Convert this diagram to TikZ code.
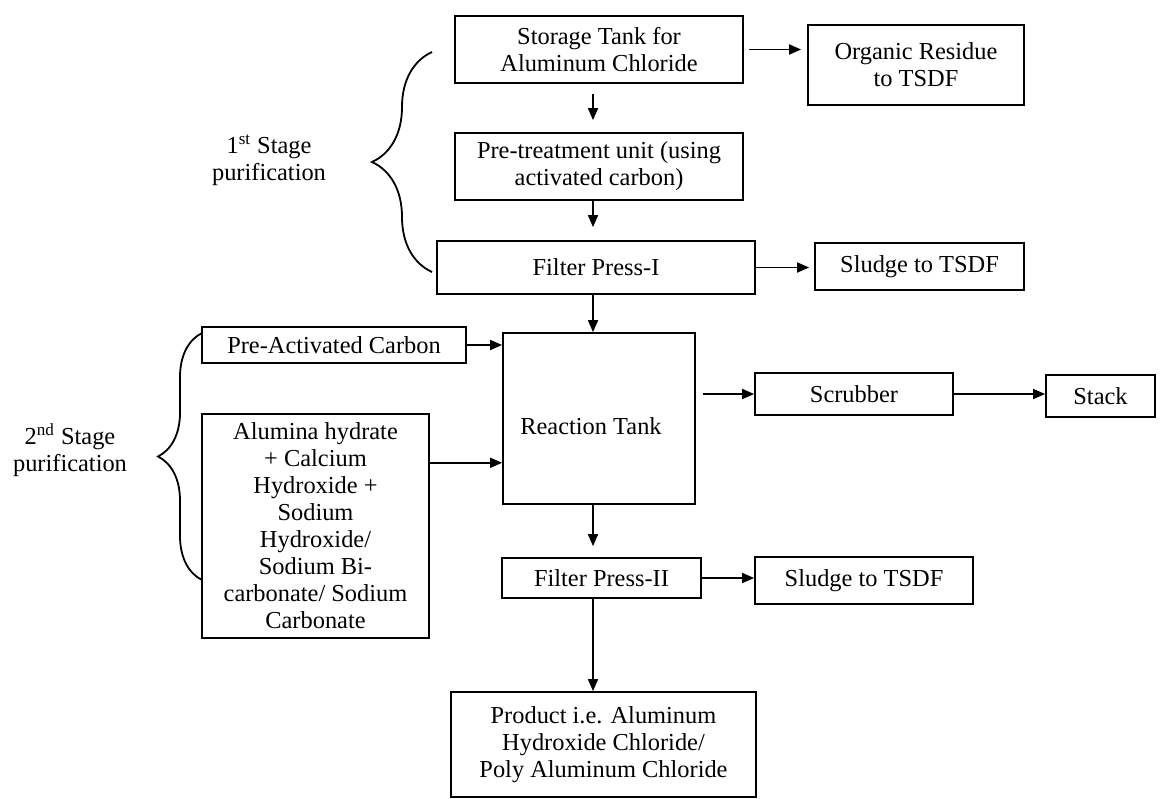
\documentclass[tikz,border=0pt]{standalone}
\usepackage{fontspec}
\setmainfont{Liberation Serif}
\usepackage{tikz}
\usetikzlibrary{calc,arrows.meta,decorations.pathreplacing}
\tikzset{
  unit/.style={rectangle, draw=black, line width=0.9pt, text centered, align=center, inner sep=2pt, font=\fontsize{12.2}{13.5}\selectfont},
  flow/.style={-{Triangle[length=6pt,width=5pt]}, line width=0.9pt},
  stage/.style={align=center, font=\fontsize{12.2}{13.5}\selectfont},
  curly/.style={decorate, line width=0.9pt}
}

\begin{document}
\begin{tikzpicture}[x=0.5pt,y=-0.5pt]
	\useasboundingbox (0,0) rectangle (1160,798);
	% main line
	\node[unit, minimum width=144pt, minimum height=33.5pt] (storage) at (599,49.5) {Storage Tank for\\Aluminum Chloride};
	\node[unit, minimum width=108pt, minimum height=40pt] (organic) at (916,65) {Organic Residue\\to TSDF};
	\node[unit, minimum width=144pt, minimum height=33.5pt] (pretreat) at (599,166.5) {Pre-treatment unit (using\\activated carbon)};
	\node[unit, minimum width=159pt, minimum height=26.5pt] (fpone) at (596,267.5) {Filter Press-I};
	\node[unit, minimum width=104.5pt, minimum height=23.5pt] (sludgeA) at (919.5,266.5) {Sludge to TSDF};
	\node[unit, minimum width=132pt, minimum height=18pt] (preact) at (334,345) {Pre-Activated Carbon};
	\node[unit, minimum width=113.5pt, minimum height=112pt] (alumina) at (315.5,526) {Alumina hydrate\\+ Calcium\\Hydroxide +\\Sodium\\Hydroxide/\\Sodium Bi-\\carbonate/ Sodium\\Carbonate};
	\node[unit, minimum width=96pt, minimum height=85.5pt] (reactor) at (599,418.5) {};
	\node (reactlabel) at (591,426) [font=\fontsize{12.2}{13.5}\selectfont] {Reaction Tank};
	\node[unit, minimum width=99pt, minimum height=21pt] (scrub) at (854,394) {Scrubber};
	\node[unit, minimum width=54.5pt, minimum height=21pt] (stack) at (1100.5,396) {Stack};
	\node[unit, minimum width=99.5pt, minimum height=20pt] (fptwo) at (601.5,578) {Filter Press-II};
	\node[unit, minimum width=109pt, minimum height=23.5pt] (sludgeB) at (864,580.5) {Sludge to TSDF};
	\node[unit, minimum width=152.5pt, minimum height=52.5pt] (product) at (603.5,744.5) {Product i.e. Aluminum\\Hydroxide Chloride/\\Poly Aluminum Chloride};
	\coordinate (spine) at (593,0);
	\coordinate (alfeed) at ($(alumina.north east)!0.22!(alumina.south east)$);

	% stage labels
	\node[stage] (first) at (269,160) {1\textsuperscript{st} Stage\\purification};
	\node[stage] (second) at (70,450) {2\textsuperscript{nd} Stage\\purification};
	\draw[curly, decoration={brace, amplitude=30pt}] (432,272) -- (432,52);
	\draw[curly, decoration={brace, amplitude=22pt}] (202,580) -- (202,333);

	% flows
	\draw[flow, shorten <=2.5pt, shorten >=3pt] (storage.east) -- (storage.east -| organic.west);
	\draw[flow, shorten <=5pt, shorten >=6pt] (storage.south -| spine) -- (pretreat.north -| spine);
	\draw[flow, shorten >=6.5pt] (pretreat.south -| spine) -- (fpone.north -| spine);
	\draw[flow] (fpone.south -| spine) -- (reactor.north -| spine);
	\draw[flow, shorten >=2.5pt] (fpone.east) -- (fpone.east -| sludgeA.west);
	\draw[flow] (preact.east) -- (preact.east -| reactor.west);
	\draw[flow] (alfeed) -- (alfeed -| reactor.west);
	\draw[flow, shorten <=3.5pt] (scrub.west -| reactor.east) -- (scrub.west);
	\draw[flow] (scrub.east) -- (scrub.east -| stack.west);
	\draw[flow, shorten >=5.5pt] (reactor.south -| spine) -- (fptwo.north -| spine);
	\draw[flow] (fptwo.east) -- (fptwo.east -| sludgeB.west);
	\draw[flow] (fptwo.south -| spine) -- (product.north -| spine);
\end{tikzpicture}
\end{document}
